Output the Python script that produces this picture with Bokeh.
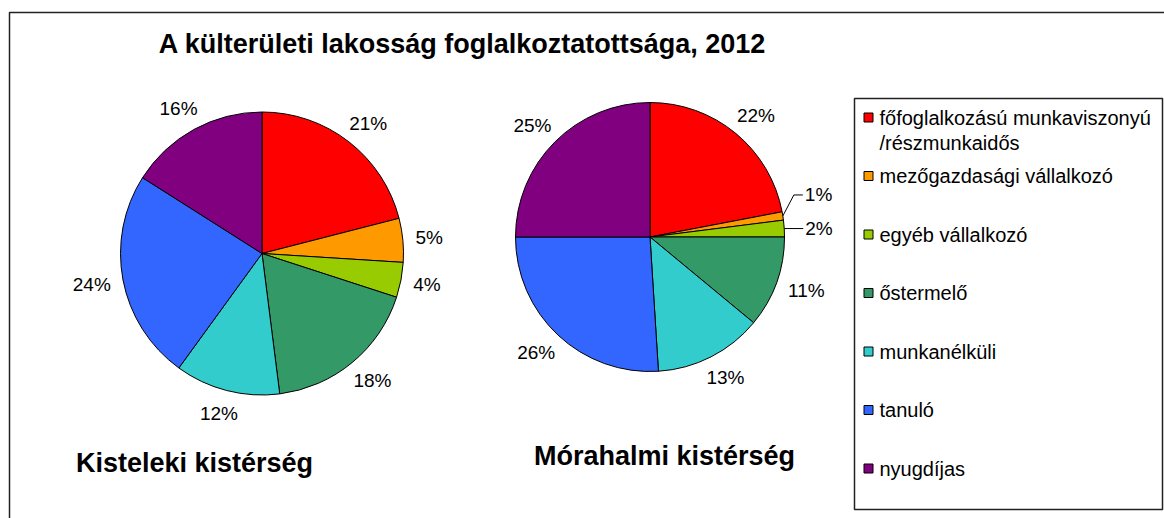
import math
from bokeh.plotting import figure
from bokeh.models import Range1d
from bokeh.core.properties import value
from bokeh.embed import file_html
from bokeh.resources import INLINE

# ---------------- data ----------------
title = "A külterületi lakosság foglalkoztatottsága, 2012"
categories = [
    "főfoglalkozású munkaviszonyú /részmunkaidős",
    "mezőgazdasági vállalkozó",
    "egyéb vállalkozó",
    "őstermelő",
    "munkanélküli",
    "tanuló",
    "nyugdíjas",
]
colors = ["#FF0000", "#FF9900", "#99CC00", "#339966", "#33CCCC", "#3366FF", "#800080"]
kistelek_name = "Kisteleki kistérség"
kistelek_values = [21, 5, 4, 18, 12, 24, 16]
morahalom_name = "Mórahalmi kistérség"
morahalom_values = [22, 1, 2, 11, 13, 26, 25]

# ---------------- layout (screen px) ----------------
W, H = 1164, 518
FONT = "Liberation Sans"


def sy(y):
    return H - y


p = figure(width=W, height=H, output_backend="svg", toolbar_location=None,
           x_range=Range1d(0, W), y_range=Range1d(0, H),
           min_border=0, outline_line_color=None)
p.axis.visible = False
p.grid.visible = False
p.background_fill_color = "white"
p.border_fill_color = "white"

# outer chart border
p.quad(left=[9], right=[1200], top=[sy(12)], bottom=[sy(560)],
       fill_color=None, line_color="#222222", line_width=1.5)

# title
p.text(x=[462], y=[sy(43)], text=[title], text_font=value(FONT),
       text_font_style="bold", text_font_size="27px",
       text_align="center", text_baseline="middle", text_color="black")


def draw_pie(cx, cy, r, vals, name, name_x, name_y, leader_offsets):
    total = float(sum(vals))
    cum = 0.0
    starts, ends, mids = [], [], []
    for v in vals:
        a0 = math.pi / 2 - 2 * math.pi * cum / total
        cum += v
        a1 = math.pi / 2 - 2 * math.pi * cum / total
        starts.append(a0)
        ends.append(a1)
        mids.append((a0 + a1) / 2)
    p.wedge(x=cx, y=sy(cy), radius=r, start_angle=starts, end_angle=ends,
            direction="clock", fill_color=colors, line_color="black",
            line_width=1)
    lx, ly, lt = [], [], []
    small_x, small_y, small_t = [], [], []
    for v, m in zip(vals, mids):
        ux, uy = math.cos(m), math.sin(m)  # uy positive = up
        txt = f"{v}%"
        if v < 3:
            ex, ey = cx + r * ux, cy - r * uy
            dx1, dy1, dx2 = leader_offsets[v]
            xs = [ex, ex + dx1, ex + dx2]
            ys = [sy(ey), sy(ey + dy1), sy(ey + dy1)]
            p.line(x=xs, y=ys, line_color="black", line_width=1)
            small_x.append(ex + dx2 + 2)
            small_y.append(sy(ey + dy1))
            small_t.append(txt)
            continue
        w = 10.5 * len(txt)
        h = 15
        g = 16
        px = cx + (r + g) * ux + (w / 2) * ux
        py = cy - (r + g) * uy - (h / 2) * uy
        lx.append(px)
        ly.append(sy(py))
        lt.append(txt)
    p.text(x=lx, y=ly, text=lt, text_font=value(FONT), text_font_size="19px",
           text_align="center", text_baseline="middle", text_color="black")
    if small_t:
        p.text(x=small_x, y=small_y, text=small_t, text_font=value(FONT),
               text_font_size="19px", text_align="left",
               text_baseline="middle", text_color="black")
    p.text(x=[name_x], y=[sy(name_y)], text=[name], text_font=value(FONT),
           text_font_style="bold", text_font_size="27px",
           text_align="center", text_baseline="middle", text_color="black")


draw_pie(261.5, 253, 141.5, kistelek_values, kistelek_name, 194, 462, {})
draw_pie(649.5, 236.5, 134.5, morahalom_values, morahalom_name, 664, 455,
         {1: (11, -21, 20), 2: (0, 0, 19)})

# legend
p.quad(left=[854], right=[1162], top=[sy(98)], bottom=[sy(509)],
       fill_color="white", line_color="#222222", line_width=1.5)
leg_y0, leg_dy = 117, 58.5
mx, my, tx, ty, tt = [], [], [], [], []
for i, c in enumerate(categories):
    yy = leg_y0 + leg_dy * i
    mx.append(868)
    my.append(sy(yy))
    parts = c.split(" /")
    for j, part in enumerate(parts):
        tx.append(879)
        ty.append(sy(yy + 25 * j))
        tt.append(part if j == 0 else "/" + part)
p.scatter(x=mx, y=my, marker="square", size=9, fill_color=colors,
          line_color="black", line_width=1)
p.text(x=tx, y=ty, text=tt, text_font=value(FONT), text_font_size="20px",
       text_align="left", text_baseline="middle", text_color="black")

open("out.html", "w").write(file_html(p, INLINE))
